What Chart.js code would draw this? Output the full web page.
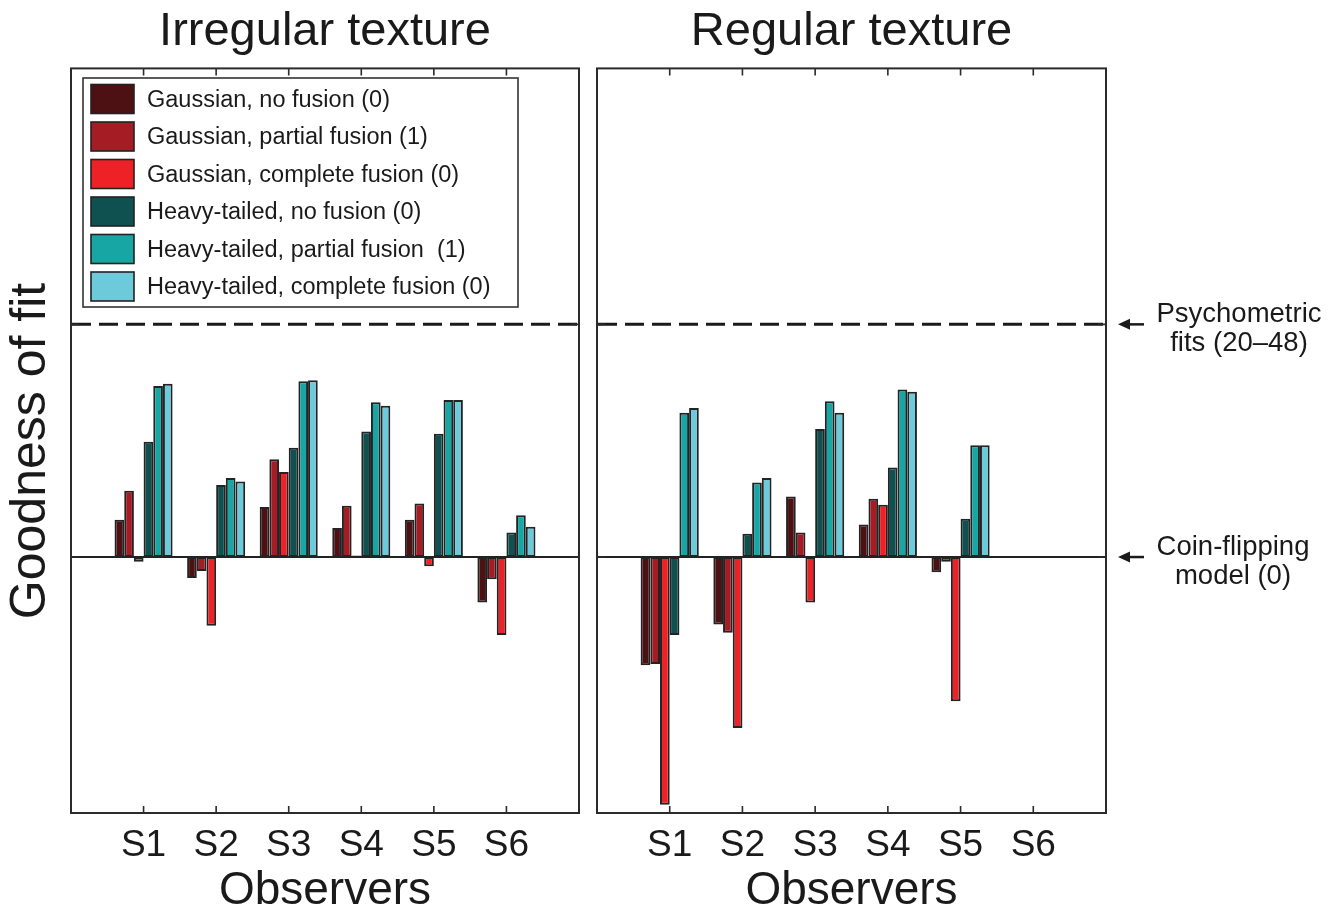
<!DOCTYPE html>
<html>
<head>
<meta charset="utf-8">
<script src="https://cdn.jsdelivr.net/npm/chart.js@4.4.1/dist/chart.umd.min.js"></script>
<style>
  html, body { margin: 0; padding: 0; background: #ffffff; }
  #wrap { position: relative; width: 1342px; height: 919px; overflow: hidden; }
  #irregular { position: absolute; left: 0; top: 0; }
  #regular { position: absolute; left: 590px; top: 0; }
</style>
</head>
<body>
<div id="wrap">
  <canvas id="irregular" width="590" height="919"></canvas>
  <canvas id="regular" width="752" height="919"></canvas>
</div>
<script>
// Observers on the x axis
const observers = ['S1', 'S2', 'S3', 'S4', 'S5', 'S6'];

// Model labels (number of free fusion parameters in brackets) and fills
const modelNames = [
  'Gaussian, no fusion (0)',
  'Gaussian, partial fusion (1)',
  'Gaussian, complete fusion (0)',
  'Heavy-tailed, no fusion (0)',
  'Heavy-tailed, partial fusion  (1)',
  'Heavy-tailed, complete fusion (0)'
];
const modelColors = ['#4e1113', '#a61c24', '#ee2226', '#0f5151', '#17a6a4', '#6ccadb'];

// Goodness of fit, scaled so the coin-flipping model is 0 and the psychometric fits are 1
// Irregular texture
const irrGaussNone     = [0.16, -0.09, 0.215, 0.125, 0.16, -0.195];
const irrGaussPartial  = [0.285, -0.06, 0.42, 0.22, 0.23, -0.095];
const irrGaussComplete = [-0.02, -0.295, 0.365, 0.007, -0.04, -0.335];
const irrHeavyNone     = [0.495, 0.31, 0.47, 0.54, 0.53, 0.105];
const irrHeavyPartial  = [0.735, 0.34, 0.755, 0.665, 0.675, 0.18];
const irrHeavyComplete = [0.745, 0.325, 0.76, 0.65, 0.675, 0.13];

// Regular texture (no data for S6)
const regGaussNone     = [-0.465, -0.29, 0.26, 0.14, -0.065, null];
const regGaussPartial  = [-0.46, -0.325, 0.105, 0.25, -0.02, null];
const regGaussComplete = [-1.065, -0.735, -0.195, 0.225, -0.62, null];
const regHeavyNone     = [-0.335, 0.1, 0.55, 0.385, 0.165, null];
const regHeavyPartial  = [0.62, 0.32, 0.67, 0.72, 0.48, null];
const regHeavyComplete = [0.64, 0.34, 0.62, 0.71, 0.48, null];

// Reference levels
const coinFlipLevel = 0;
const psychometricLevel = 1;

const FONT = "'Liberation Sans', Arial, Helvetica, sans-serif";
const INK = '#1a1a1a';

// Box, inward ticks, reference lines, legend and side notes
const panelDecor = {
  id: 'panelDecor',
  beforeDatasetsDraw(chart) {
    const { ctx, chartArea: a, scales: { y } } = chart;
    ctx.save();
    // coin-flipping baseline
    const y0 = y.getPixelForValue(coinFlipLevel);
    ctx.strokeStyle = '#222';
    ctx.lineWidth = 2;
    ctx.beginPath();
    ctx.moveTo(a.left, y0);
    ctx.lineTo(a.right, y0);
    ctx.stroke();
    ctx.restore();
  },
  afterDraw(chart, args, opts) {
    const { ctx, chartArea: a, scales: { x, y } } = chart;
    ctx.save();

    // psychometric fits level
    const y1 = y.getPixelForValue(psychometricLevel);
    ctx.strokeStyle = INK;
    ctx.lineWidth = 3;
    ctx.setLineDash([19, 8]);
    ctx.beginPath();
    ctx.moveTo(a.left + 1, y1);
    ctx.lineTo(a.right, y1);
    ctx.stroke();
    ctx.setLineDash([]);

    // frame
    ctx.strokeStyle = '#2b2b2b';
    ctx.lineWidth = 2;
    ctx.strokeRect(a.left, a.top, a.right - a.left, a.bottom - a.top);

    // inward tick marks
    ctx.lineWidth = 1.6;
    ctx.beginPath();
    observers.forEach((_, i) => {
      const px = x.getPixelForValue(i + 1);
      ctx.moveTo(px, a.top); ctx.lineTo(px, a.top + 7);
      ctx.moveTo(px, a.bottom); ctx.lineTo(px, a.bottom - 7);
    });
    [coinFlipLevel, psychometricLevel].forEach(v => {
      const py = y.getPixelForValue(v);
      ctx.moveTo(a.left, py); ctx.lineTo(a.left + 8, py);
      ctx.moveTo(a.right, py); ctx.lineTo(a.right - 8, py);
    });
    ctx.stroke();

    // y axis title
    if (opts.yTitle) {
      ctx.save();
      ctx.translate(31, 451);
      ctx.rotate(-Math.PI / 2);
      ctx.fillStyle = INK;
      ctx.font = '50px ' + FONT;
      ctx.textAlign = 'center';
      ctx.textBaseline = 'middle';
      ctx.fillText(opts.yTitle, 0, 0);
      ctx.restore();
    }

    // legend
    if (opts.legend) {
      const L = { left: 83, top: 78, right: 518, bottom: 307 };
      ctx.fillStyle = '#ffffff';
      ctx.fillRect(L.left, L.top, L.right - L.left, L.bottom - L.top);
      ctx.strokeStyle = '#333';
      ctx.lineWidth = 1.6;
      ctx.strokeRect(L.left, L.top, L.right - L.left, L.bottom - L.top);
      ctx.font = '23.5px ' + FONT;
      ctx.textAlign = 'left';
      ctx.textBaseline = 'middle';
      chart.data.datasets.forEach((ds, k) => {
        const cy = 99 + k * 37.5;
        ctx.fillStyle = ds.backgroundColor;
        ctx.fillRect(91, cy - 14.5, 43, 29);
        ctx.strokeStyle = '#222';
        ctx.lineWidth = 1.6;
        ctx.strokeRect(91, cy - 14.5, 43, 29);
        ctx.fillStyle = INK;
        ctx.fillText(ds.label, 147, cy + 1.5);
      });
    }

    // notes on the right of the panel
    if (opts.notes) {
      ctx.fillStyle = INK;
      ctx.strokeStyle = INK;
      ctx.font = '27.5px ' + FONT;
      ctx.textAlign = 'center';
      ctx.textBaseline = 'alphabetic';
      opts.notes.forEach(n => {
        const py = y.getPixelForValue(n.value);
        const ax = a.right + 12;
        ctx.lineWidth = 2.5;
        ctx.beginPath();
        ctx.moveTo(ax + 8, py);
        ctx.lineTo(ax + 26, py);
        ctx.stroke();
        ctx.beginPath();
        ctx.moveTo(ax, py);
        ctx.lineTo(ax + 12, py - 5.5);
        ctx.lineTo(ax + 12, py + 5.5);
        ctx.closePath();
        ctx.fill();
        n.lines.forEach((t, j) => {
          ctx.fillText(t, a.right + n.cx, py + n.dy + j * 29);
        });
      });
    }
    ctx.restore();
  }
};

function makePanel(id, title, series, padding, decor) {
  return new Chart(document.getElementById(id), {
    type: 'bar',
    data: {
      datasets: series.map((vals, k) => ({
        label: modelNames[k],
        data: vals.map((v, i) => ({ x: i + 1, y: v })).filter(p => p.y !== null),
        backgroundColor: modelColors[k],
        borderColor: '#232323',
        borderWidth: 2,
        borderSkipped: false,
        categoryPercentage: 0.8,
        barPercentage: 1.0
      }))
    },
    options: {
      responsive: false,
      animation: false,
      events: [],
      layout: { padding },
      plugins: {
        legend: { display: false },
        tooltip: { enabled: false },
        title: {
          display: true,
          text: title,
          fullSize: false,
          color: INK,
          font: { family: FONT, size: 47, weight: 'normal', lineHeight: 1.2 },
          padding: { top: 4, bottom: 8 }
        },
        panelDecor: decor
      },
      scales: {
        x: {
          type: 'linear',
          min: 0,
          max: 7,
          offset: false,
          afterBuildTicks: s => { s.ticks = observers.map((_, i) => ({ value: i + 1 })); },
          afterFit: s => { s.height = 106; },
          grid: { display: false, offset: false },
          border: { display: false },
          ticks: {
            autoSkip: false,
            maxRotation: 0,
            padding: 3,
            color: INK,
            font: { family: FONT, size: 37 },
            callback: v => observers[v - 1] || ''
          },
          title: {
            display: true,
            text: 'Observers',
            color: INK,
            font: { family: FONT, size: 46, lineHeight: 1.2 },
            padding: { top: 0, bottom: 0 }
          }
        },
        y: { min: -1.1, max: 2.1, display: false }
      }
    },
    plugins: [panelDecor]
  });
}

makePanel('irregular', 'Irregular texture',
  [irrGaussNone, irrGaussPartial, irrGaussComplete, irrHeavyNone, irrHeavyPartial, irrHeavyComplete],
  { left: 71, right: 11, top: 0, bottom: 0 },
  { legend: true, yTitle: 'Goodness of fit' });

makePanel('regular', 'Regular texture',
  [regGaussNone, regGaussPartial, regGaussComplete, regHeavyNone, regHeavyPartial, regHeavyComplete],
  { left: 7, right: 236, top: 0, bottom: 0 },
  {
    notes: [
      { value: psychometricLevel, lines: ['Psychometric', 'fits (20\u201348)'], cx: 133, dy: -2 },
      { value: coinFlipLevel, lines: ['Coin-flipping', 'model (0)'], cx: 127, dy: -2 }
    ]
  });
</script>
</body>
</html>
